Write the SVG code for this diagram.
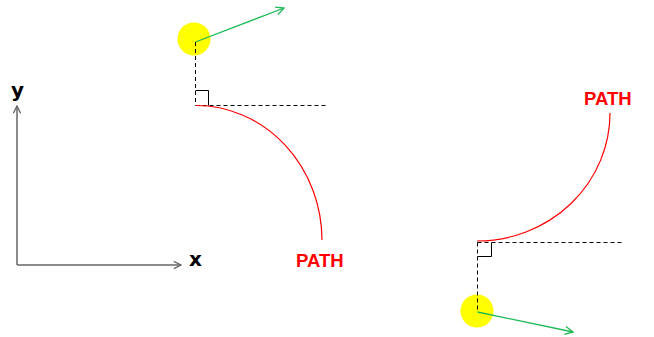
<svg xmlns="http://www.w3.org/2000/svg" width="654" height="337" viewBox="0 0 654 337">
<defs>
<style>
.axis{stroke:#666;stroke-width:1.5;fill:none}
.dash{stroke:#000;stroke-width:1;stroke-dasharray:4,3;fill:none}
.ra{stroke:#000;stroke-width:1;fill:none}
.path{stroke:#f00;stroke-width:1.2;fill:none}
.vec{stroke:#1db954;stroke-width:1.3;fill:none}
.dot{fill:#ff0}
.lbl{font-family:"DejaVu Sans",sans-serif;font-weight:bold;font-size:20px;fill:#000}
.ptxt{font-family:"Liberation Sans",Arial,sans-serif;font-weight:bold;font-size:18.5px;fill:#f00}
</style>
<marker id="chev" viewBox="0 0 10 10" refX="9" refY="5" markerWidth="9" markerHeight="9" markerUnits="userSpaceOnUse" orient="auto">
<path d="M1,1 L9,5 L1,9" fill="none" stroke="#666" stroke-width="1.5"/>
</marker>
<marker id="gchev" viewBox="0 0 10 10" refX="9" refY="5" markerWidth="10" markerHeight="10" markerUnits="userSpaceOnUse" orient="auto">
<path d="M1,1 L9,5 L1,9" fill="none" stroke="#1db954" stroke-width="1.3"/>
</marker>
</defs>
<g id="axes">
<line class="axis" x1="17" y1="265" x2="17" y2="106" marker-end="url(#chev)"/>
<line class="axis" x1="17" y1="265" x2="181" y2="265" marker-end="url(#chev)"/>
<text class="lbl" x="11" y="97">y</text>
<text class="lbl" x="189" y="266">x</text>
</g>
<g id="left">
<circle class="dot" cx="194" cy="39" r="16.5"/>
<line class="dash" x1="195.5" y1="42" x2="195.5" y2="105.5"/>
<line class="dash" x1="195.5" y1="105.5" x2="328" y2="105.5"/>
<path class="ra" d="M195.5,90.5 H208.5 V105.5"/>
<path class="path" d="M196,105.5 A126,135 0 0 1 322,240"/>
<line class="vec" x1="195.5" y1="42" x2="284" y2="8" marker-end="url(#gchev)"/>
<text class="ptxt" x="296" y="267">PATH</text>
</g>
<g id="right">
<circle class="dot" cx="477" cy="311" r="16.5"/>
<line class="dash" x1="477.5" y1="242.5" x2="477.5" y2="312"/>
<line class="dash" x1="477.5" y1="242.5" x2="623" y2="242.5"/>
<path class="ra" d="M477.5,256.5 H491.5 V242.5"/>
<path class="path" d="M477,241 A133,128 0 0 0 610,113"/>
<line class="vec" x1="477.5" y1="312" x2="573" y2="332" marker-end="url(#gchev)"/>
<text class="ptxt" x="584" y="105">PATH</text>
</g>
</svg>
